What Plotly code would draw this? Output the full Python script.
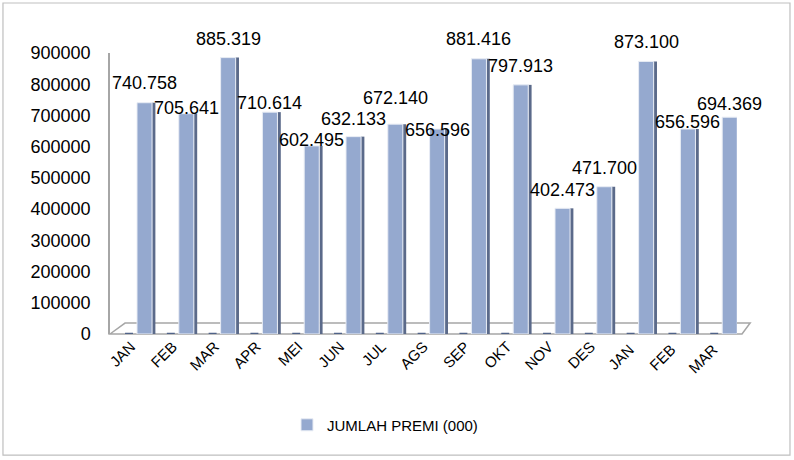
import plotly.graph_objects as go

bulan = ["JAN", "FEB", "MAR", "APR", "MEI", "JUN", "JUL", "AGS", "SEP", "OKT",
         "NOV", "DES", "JAN ", "FEB ", "MAR "]
jumlah_premi = [740758, 705641, 885319, 710614, 602495, 632133, 672140, 656596,
                881416, 797913, 402473, 471700, 873100, 656596, 694369]
seri_nol = [0] * 15
y_ticks = [0, 100000, 200000, 300000, 400000, 500000, 600000, 700000, 800000, 900000]

# style: vertical placement of each value label (px above bar top)
label_lift = [20, 6, 19, 9, 6, 18, 26, -1, 20, 19, 18, 19, 19, 7, 13]

labels = [f"{v:,}".replace(",", ".") for v in jumlah_premi]
font = "Liberation Sans, Arial, sans-serif"

MAIN_OFF, MAIN_W = 0.146, 0.36
CAT_PX = 41.8

fig = go.Figure()
# flat zero-value series (shown as thin dark slab)
fig.add_trace(go.Bar(x=bulan, y=seri_nol, offset=-0.14, width=0.19,
                     marker=dict(color="#4F6288", line=dict(color="#4F6288", width=2.5)),
                     showlegend=False, hoverinfo="skip"))
# side face of 3D bars
fig.add_trace(go.Bar(x=bulan, y=jumlah_premi, offset=MAIN_OFF + MAIN_W, width=0.08,
                     marker=dict(color="#5B6A8A", line=dict(width=0)),
                     showlegend=False, hoverinfo="skip"))
# front face
fig.add_trace(go.Bar(x=bulan, y=jumlah_premi, offset=MAIN_OFF, width=MAIN_W,
                     name="JUMLAH PREMI (000)",
                     marker=dict(color="#95A9CF", line=dict(color="#E8ECF4", width=1)),
                     hoverinfo="x+y"))

annotations = []
for i, (v, t) in enumerate(zip(jumlah_premi, labels)):
    annotations.append(dict(
        x=i, y=v, xref="x", yref="y", text=t, showarrow=False,
        xanchor="center", yanchor="middle",
        xshift=(MAIN_OFF + MAIN_W / 2) * CAT_PX, yshift=label_lift[i],
        font=dict(family=font, size=18, color="#000")))

fig.update_layout(
    width=794, height=460,
    margin=dict(l=110, r=57, t=53, b=126),
    barmode="overlay",
    paper_bgcolor="white", plot_bgcolor="white",
    font=dict(family=font, color="#000"),
    annotations=annotations,
    xaxis=dict(type="category", range=[-0.5, 14.5], tickangle=-45,
               tickfont=dict(size=15), showgrid=False, zeroline=False,
               showline=False, ticks=""),
    yaxis=dict(range=[0, 900000], tickvals=y_ticks, tickformat="d",
               tickfont=dict(size=18), showgrid=False, zeroline=False,
               showline=True, linecolor="#A6A6A6", linewidth=1.5, ticks="",
               ticklabelstandoff=14),
    legend=dict(orientation="h", x=0.4386, xanchor="center", y=-0.324, yanchor="middle",
                font=dict(size=15)),
    shapes=[
        dict(type="path", xref="paper", yref="paper", layer="below",
             path="M 0 0 L 0.024 0.039 L 1.021 0.039 L 1.008 0 Z",
             fillcolor="white", line=dict(color="#A6A6A6", width=1.5)),
        dict(type="rect", xref="paper", yref="paper", layer="below",
             x0=-0.1707, x1=1.0845, y0=-0.431, y1=1.178,
             line=dict(color="#BFBFBF", width=1.2)),
    ],
)

fig.write_html("out.html")
